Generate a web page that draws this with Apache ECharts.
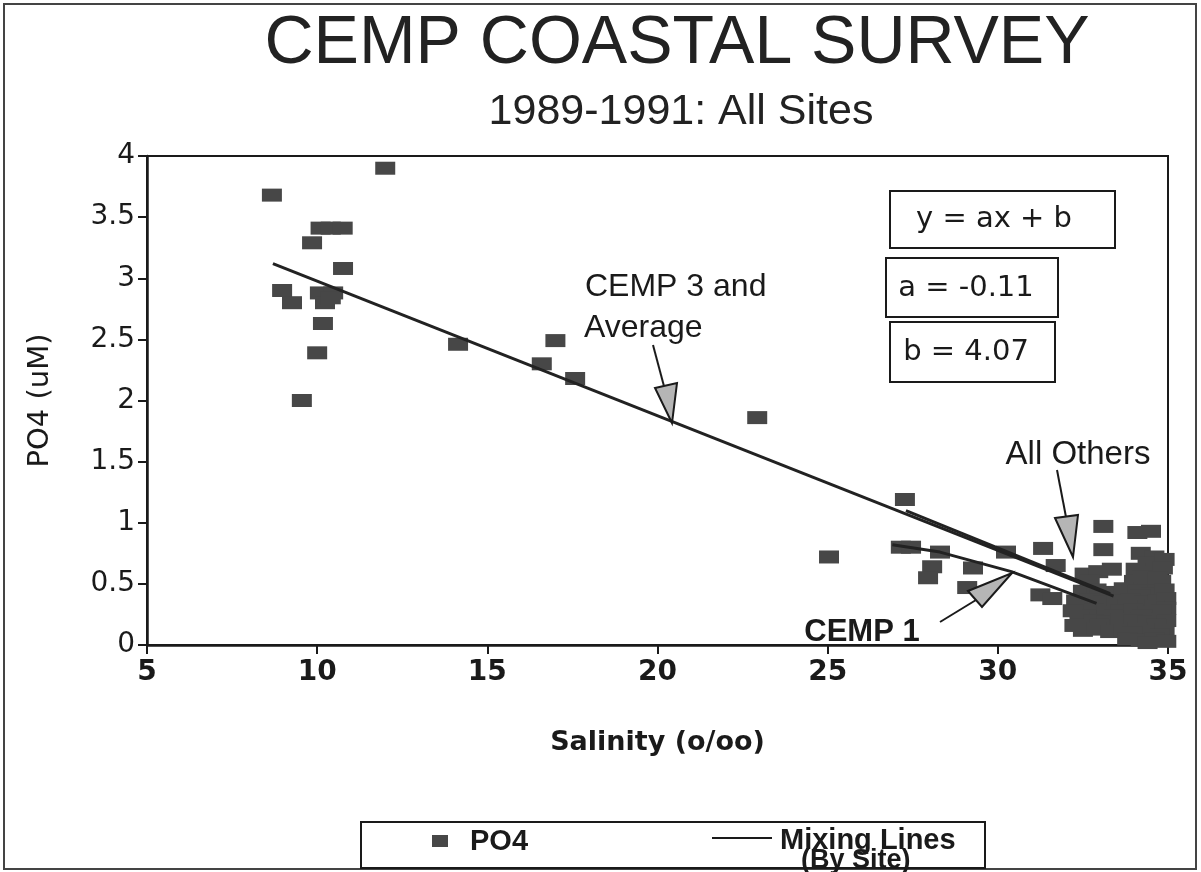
<!DOCTYPE html>
<html>
<head>
<meta charset="utf-8">
<script src="https://cdn.jsdelivr.net/npm/echarts@6/dist/echarts.min.js"></script>
<style>
html,body{margin:0;padding:0;background:#fff;}
#chart{width:1201px;height:872px;}
</style>
</head>
<body>
<div id="chart"></div>
<script>
// ---- Data ----
const titleText = 'CEMP COASTAL SURVEY';
const subtitleText = '1989-1991: All Sites';
const xAxisName = 'Salinity (o/oo)';
const yAxisName = 'PO4 (uM)';
const xTicks = [5, 10, 15, 20, 25, 30, 35];
const yTicks = [0, 0.5, 1, 1.5, 2, 2.5, 3, 3.5, 4];

// PO4 samples: [salinity, PO4]
const po4Upper = [
  [8.67, 3.68], [12.0, 3.90], [9.85, 3.29],
  [10.1, 3.41], [10.4, 3.41], [10.75, 3.41],
  [10.76, 3.08],
  [8.97, 2.90], [9.26, 2.80],
  [10.08, 2.88], [10.47, 2.88], [10.23, 2.80], [10.4, 2.84],
  [10.17, 2.63], [10.0, 2.39], [9.55, 2.00],
  [14.14, 2.46], [17.0, 2.49], [16.6, 2.30], [17.58, 2.18],
  [22.93, 1.86]
];
const po4Middle = [
  [25.04, 0.72], [27.27, 1.19], [27.15, 0.80], [27.45, 0.80],
  [28.3, 0.76], [28.07, 0.64], [27.95, 0.55],
  [29.27, 0.63], [29.1, 0.47], [30.24, 0.76],
  [31.33, 0.79], [31.7, 0.65], [31.25, 0.41], [31.6, 0.38],
  [33.1, 0.97], [33.1, 0.78], [34.1, 0.92], [34.5, 0.93],
  [34.2, 0.75], [34.6, 0.72], [34.4, 0.67], [34.9, 0.70]
];
const po4Cluster = [
  [32.55, 0.58], [32.95, 0.60], [33.35, 0.62], [34.05, 0.62], [34.45, 0.60], [34.85, 0.63],
  [32.7, 0.52], [34.0, 0.52], [34.4, 0.50], [34.8, 0.52], [34.25, 0.56], [34.7, 0.55],
  [32.5, 0.44], [32.9, 0.45], [33.3, 0.43], [33.7, 0.46], [34.1, 0.44], [34.5, 0.42], [34.9, 0.45],
  [33.0, 0.40], [34.2, 0.40],
  [32.3, 0.36], [32.7, 0.37], [33.1, 0.35], [33.5, 0.36], [33.9, 0.37], [34.3, 0.35], [34.7, 0.36], [34.95, 0.38],
  [32.6, 0.32], [33.8, 0.32], [34.6, 0.32], [34.95, 0.30],
  [32.4, 0.28], [32.8, 0.29], [33.2, 0.27], [33.6, 0.28], [34.0, 0.29], [34.4, 0.27], [34.8, 0.28],
  [32.6, 0.24], [33.4, 0.24], [34.25, 0.24], [32.2, 0.28],
  [32.4, 0.21], [32.8, 0.20], [33.2, 0.19], [33.6, 0.21], [34.0, 0.20], [34.4, 0.19], [34.8, 0.21], [34.95, 0.20],
  [32.25, 0.16], [33.0, 0.16], [34.65, 0.16],
  [32.5, 0.12], [32.9, 0.13], [33.3, 0.11], [33.7, 0.12], [34.1, 0.13], [34.5, 0.11], [34.9, 0.12],
  [33.95, 0.10], [34.75, 0.08],
  [33.8, 0.05], [34.2, 0.04], [34.6, 0.05], [34.95, 0.03], [34.4, 0.02]
];

// Mixing lines (by site)
const lineCemp3Avg = [[8.7, 3.12], [33.4, 0.40]];
const lineAllOthers = [[27.3, 1.10], [33.3, 0.42]];
const lineCemp1 = [[26.9, 0.82], [28.3, 0.76], [30.4, 0.60], [32.9, 0.34]];

// Regression box texts
const eqText = 'y = ax + b';
const aText = 'a = -0.11';
const bText = 'b = 4.07';

// ---- Chart ----
const chart = echarts.init(document.getElementById('chart'));
const INK = '#1a1a1a';
const MARK = '#474747';
const lineStyle = { color: '#222', width: 3 };

const option = {
  backgroundColor: '#fff',
  animation: false,
  title: [
    { text: titleText, left: 672, top: 5, textAlign: 'center',
      textStyle: { fontFamily: 'Liberation Sans', fontSize: 68, fontWeight: 'normal', color: '#222' } },
    { text: subtitleText, left: 676, top: 86, textAlign: 'center',
      textStyle: { fontFamily: 'Liberation Sans', fontSize: 43, fontWeight: 'normal', color: '#222' } }
  ],
  grid: { left: 147, right: 33, top: 156, bottom: 227, show: true, borderColor: INK, borderWidth: 2, backgroundColor: 'transparent' },
  xAxis: {
    type: 'value', min: xTicks[0], max: xTicks[xTicks.length - 1], interval: 5,
    name: xAxisName, nameLocation: 'middle', nameGap: 84,
    nameTextStyle: { fontFamily: 'DejaVu Sans', fontWeight: 'bold', fontSize: 27, color: INK },
    axisLine: { show: true, lineStyle: { color: INK, width: 2.5 } },
    axisTick: { show: true, inside: false, length: 9, lineStyle: { color: INK, width: 2 } },
    axisLabel: { fontFamily: 'DejaVu Sans', fontWeight: 'bold', fontSize: 28, color: INK, margin: 14 },
    splitLine: { show: false }
  },
  yAxis: {
    type: 'value', min: yTicks[0], max: yTicks[yTicks.length - 1], interval: 0.5,
    name: yAxisName, nameLocation: 'middle', nameGap: 92, nameRotate: 90,
    nameTextStyle: { fontFamily: 'DejaVu Sans', fontSize: 29, color: INK },
    axisLine: { show: true, lineStyle: { color: INK, width: 2.5 } },
    axisTick: { show: true, inside: false, length: 9, lineStyle: { color: INK, width: 2 } },
    axisLabel: { fontFamily: 'DejaVu Sans', fontSize: 28, color: INK, margin: 12 },
    splitLine: { show: false }
  },
  series: [
    { name: 'PO4', type: 'scatter', symbol: 'rect', symbolSize: [20, 13],
      itemStyle: { color: MARK, opacity: 1 }, data: po4Upper.concat(po4Middle, po4Cluster), z: 3 },
    { name: 'Mixing Lines', type: 'line', data: lineCemp3Avg, showSymbol: false, symbol: 'none', lineStyle: lineStyle, z: 4 },
    { name: 'Mixing Lines', type: 'line', data: lineAllOthers, showSymbol: false, symbol: 'none', lineStyle: lineStyle, z: 4 },
    { name: 'Mixing Lines', type: 'line', data: lineCemp1, showSymbol: false, symbol: 'none', lineStyle: lineStyle, z: 4 }
  ],
  graphic: [
    // outer frame
    { type: 'rect', shape: { x: 4, y: 4, width: 1192, height: 865 }, style: { fill: 'none', stroke: '#444', lineWidth: 2 }, silent: true },
    // regression boxes
    { type: 'rect', shape: { x: 890, y: 191, width: 225, height: 57 }, style: { fill: '#fff', stroke: INK, lineWidth: 2 }, z: 10 },
    { type: 'text', x: 994, y: 219, style: { text: eqText, fontFamily: 'DejaVu Sans', fontSize: 29, fill: INK, align: 'center', verticalAlign: 'middle' }, z: 11 },
    { type: 'rect', shape: { x: 886, y: 258, width: 172, height: 59 }, style: { fill: '#fff', stroke: INK, lineWidth: 2 }, z: 10 },
    { type: 'text', x: 966, y: 288, style: { text: aText, fontFamily: 'DejaVu Sans', fontSize: 29, fill: INK, align: 'center', verticalAlign: 'middle' }, z: 11 },
    { type: 'rect', shape: { x: 890, y: 322, width: 165, height: 60 }, style: { fill: '#fff', stroke: INK, lineWidth: 2 }, z: 10 },
    { type: 'text', x: 966, y: 352, style: { text: bText, fontFamily: 'DejaVu Sans', fontSize: 29, fill: INK, align: 'center', verticalAlign: 'middle' }, z: 11 },
    // CEMP 3 and Average annotation
    { type: 'text', x: 585, y: 287, style: { text: 'CEMP 3 and', fontFamily: 'Liberation Sans', fontSize: 32, fill: INK, align: 'left', verticalAlign: 'middle' }, z: 11 },
    { type: 'text', x: 584, y: 328, style: { text: 'Average', fontFamily: 'Liberation Sans', fontSize: 32, fill: INK, align: 'left', verticalAlign: 'middle' }, z: 11 },
    { type: 'line', shape: { x1: 653, y1: 345, x2: 665, y2: 390 }, style: { stroke: INK, lineWidth: 2 }, z: 11 },
    { type: 'polygon', shape: { points: [[655, 388], [677, 383], [672, 423]] }, style: { fill: '#b5b5b5', stroke: INK, lineWidth: 2 }, z: 11 },
    // All Others annotation
    { type: 'text', x: 1078, y: 455, style: { text: 'All Others', fontFamily: 'Liberation Sans', fontSize: 33, fill: INK, align: 'center', verticalAlign: 'middle' }, z: 11 },
    { type: 'line', shape: { x1: 1057, y1: 470, x2: 1066, y2: 517 }, style: { stroke: INK, lineWidth: 2 }, z: 11 },
    { type: 'polygon', shape: { points: [[1055, 518], [1078, 515], [1073, 557]] }, style: { fill: '#b5b5b5', stroke: INK, lineWidth: 2 }, z: 11 },
    // CEMP 1 annotation
    { type: 'text', x: 862, y: 632, style: { text: 'CEMP 1', fontFamily: 'Liberation Sans', fontWeight: 'bold', fontSize: 31, fill: INK, align: 'center', verticalAlign: 'middle' }, z: 11 },
    { type: 'line', shape: { x1: 940, y1: 622, x2: 976, y2: 600 }, style: { stroke: INK, lineWidth: 2 }, z: 11 },
    { type: 'polygon', shape: { points: [[968, 591], [982, 607], [1012, 573]] }, style: { fill: '#b5b5b5', stroke: INK, lineWidth: 2 }, z: 11 },
    // legend box
    { type: 'rect', shape: { x: 361, y: 822, width: 624, height: 46 }, style: { fill: '#fff', stroke: INK, lineWidth: 2 }, z: 10 },
    { type: 'rect', shape: { x: 432, y: 835, width: 16, height: 12 }, style: { fill: MARK }, z: 11 },
    { type: 'text', x: 470, y: 842, style: { text: 'PO4', fontFamily: 'Liberation Sans', fontWeight: 'bold', fontSize: 29, fill: INK, align: 'left', verticalAlign: 'middle' }, z: 11 },
    { type: 'line', shape: { x1: 712, y1: 838, x2: 772, y2: 838 }, style: { stroke: INK, lineWidth: 2 }, z: 11 },
    { type: 'text', x: 780, y: 841, style: { text: 'Mixing Lines', fontFamily: 'Liberation Sans', fontWeight: 'bold', fontSize: 29, fill: INK, align: 'left', verticalAlign: 'middle' }, z: 11 },
    { type: 'text', x: 801, y: 861, style: { text: '(By Site)', fontFamily: 'Liberation Sans', fontWeight: 'bold', fontSize: 27, fill: INK, align: 'left', verticalAlign: 'middle' }, z: 11 }
  ]
};
chart.setOption(option);
</script>
</body>
</html>
